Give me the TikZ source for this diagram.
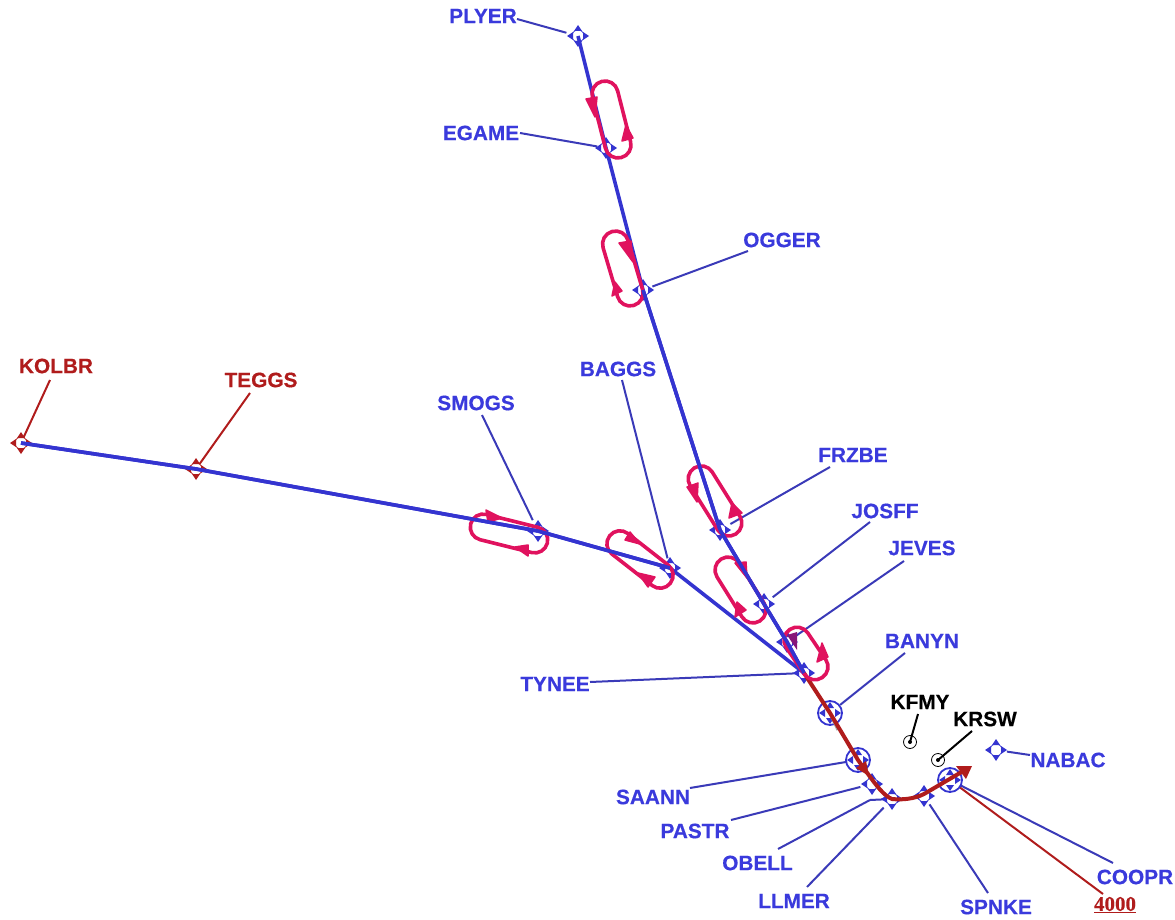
\documentclass[tikz,border=0pt]{standalone}
\usepackage{fontspec}
\setmainfont{Liberation Sans}[BoldFeatures={FakeBold=0.4}]
\newfontfamily\altfont{Liberation Serif}[BoldFeatures={FakeBold=0.3}]
\definecolor{trackblue}{HTML}{3434D0}
\definecolor{labelblue}{HTML}{3A3ADC}
\definecolor{leadblue}{HTML}{3A3AB8}
\definecolor{routered}{HTML}{B01C1C}
\definecolor{holdpink}{HTML}{E0125E}
\tikzset{
  lab/.style={font=\fontsize{20.8}{21}\selectfont\bfseries,inner sep=0pt,text=#1},
  lab/.default=labelblue,
  lead/.style={draw=#1,line width=2pt},
  lead/.default=leadblue,
  track/.style={draw=trackblue,line width=3.6pt,line join=round},
  route/.style={draw=routered,line width=4pt,line join=round},
  holdbox/.style={draw=holdpink,line width=3.6pt,rounded corners=12.9pt,inner sep=0pt,minimum height=26pt},
  tri/.style={fill=holdpink,draw=holdpink,line width=1.5pt,line join=round},
  pics/fix/.style={code={
    \draw[#1,line width=.6pt,fill=white] (0,0) circle (6);
    \fill[#1] (0,-11)--(4,-5)--(-4,-5)--cycle;
    \fill[#1] (0,11)--(4,5)--(-4,5)--cycle;
    \fill[#1] (-11,0)--(-5,4)--(-5,-4)--cycle;
    \fill[#1] (11,0)--(5,4)--(5,-4)--cycle;
  }},
  pics/bigfix/.style={code={
    \draw[#1,line width=1.8pt,fill=white] (0,0) circle (12);
    \fill[#1] (0,-11)--(4,-5)--(-4,-5)--cycle;
    \fill[#1] (0,11)--(4,5)--(-4,5)--cycle;
    \fill[#1] (-11,0)--(-5,4)--(-5,-4)--cycle;
    \fill[#1] (11,0)--(5,4)--(5,-4)--cycle;
  }},
}
\begin{document}
\begin{tikzpicture}[x=1pt,y=-1pt]
\useasboundingbox (0,0) rectangle (1175,920);
% waypoints
\coordinate (PLYER) at (578,36);
\coordinate (EGAME) at (606,148);
\coordinate (OGGER) at (643,290);
\coordinate (KOLBR) at (21,443);
\coordinate (TEGGS) at (196,469);
\coordinate (SMOGS) at (538,531);
\coordinate (BAGGS) at (670,568);
\coordinate (FRZBE) at (720,530);
\coordinate (JOSFF) at (764,604);
\coordinate (JEVES) at (787,642);
\coordinate (TYNEE) at (804,673);
\coordinate (BANYN) at (830,713);
\coordinate (SAANN) at (858,760);
\coordinate (PASTR) at (872,784);
\coordinate (LLMER) at (892,799);
\coordinate (OBELL) at (870,800);
\coordinate (SPNKE) at (924,796);
\coordinate (COOPR) at (950,780);
\coordinate (NABAC) at (996,750);
\coordinate (ROUTEEND) at (965,770);
\coordinate (SHADOW) at (838,730);
% labels
\node[lab] (lPLYER) at (483,16) {PLYER};
\node[lab] (lEGAME) at (481,133) {EGAME};
\node[lab] (lOGGER) at (782,240) {OGGER};
\node[lab=routered] (lKOLBR) at (56,366) {KOLBR};
\node[lab=routered] (lTEGGS) at (261,380) {TEGGS};
\node[lab] (lSMOGS) at (476,403) {SMOGS};
\node[lab] (lBAGGS) at (618,369) {BAGGS};
\node[lab] (lFRZBE) at (853,455) {FRZBE};
\node[lab] (lJOSFF) at (885,511) {JOSFF};
\node[lab] (lJEVES) at (922,548) {JEVES};
\node[lab] (lTYNEE) at (555,684) {TYNEE};
\node[lab] (lBANYN) at (922,641) {BANYN};
\node[lab=black] (lKFMY) at (920,702) {KFMY};
\node[lab=black] (lKRSW) at (985,719) {KRSW};
\node[lab] (lNABAC) at (1068,760) {NABAC};
\node[lab] (lSAANN) at (653,797) {SAANN};
\node[lab] (lPASTR) at (695,831) {PASTR};
\node[lab] (lOBELL) at (757.5,863) {OBELL};
\node[lab] (lLLMER) at (794,901) {LLMER};
\node[lab] (lSPNKE) at (996,907) {SPNKE};
\node[lab] (lCOOPR) at (1135,877) {COOPR};
\node[font=\altfont\fontsize{21}{21}\selectfont\bfseries,inner sep=0pt,text=routered] (lALT) at (1115,905) {\underline{4000}};
% airports
\node[circle,draw=black,line width=.8pt,minimum size=13pt,inner sep=0pt] (KFMY) at (910,742) {};
\node[circle,draw=black,line width=.8pt,minimum size=13pt,inner sep=0pt] (KRSW) at (938,760) {};
\fill (KFMY) circle (2);
\fill (KRSW) circle (2);
% free leader ends
\coordinate (sPLYER) at (517,19);
\coordinate (sEGAME) at (520,133);
\coordinate (sOGGER) at (748,251);
\coordinate (sKOLBR) at (50,380);
\coordinate (sTEGGS) at (250,393);
\coordinate (sSMOGS) at (482,415);
\coordinate (sBAGGS) at (622,380);
\coordinate (sFRZBE) at (830,467);
\coordinate (sJOSFF) at (870,522);
\coordinate (sJEVES) at (904,561);
\coordinate (sTYNEE) at (590,682);
\coordinate (sBANYN) at (905,653);
\coordinate (sKFMY) at (918,714);
\coordinate (sKRSW) at (972,731);
\coordinate (sNABAC) at (1030,755);
\coordinate (sSAANN) at (690,788);
\coordinate (sPASTR) at (731,820);
\coordinate (sOBELL) at (778,849);
\coordinate (sLLMER) at (807,887);
\coordinate (sSPNKE) at (988,893);
\coordinate (sCOOPR) at (1113,863);
\coordinate (sALT) at (1103,894);
% leaders
\draw[lead,shorten >=12pt] (sPLYER) -- (PLYER);
\draw[lead,shorten >=9pt] (sEGAME) -- (EGAME);
\draw[lead,shorten >=10pt] (sOGGER) -- (OGGER);
\draw[lead=routered,shorten >=6pt] (sKOLBR) -- (KOLBR);
\draw[lead=routered,shorten >=6pt] (sTEGGS) -- (TEGGS);
\draw[lead,shorten >=12pt] (sSMOGS) -- (SMOGS);
\draw[lead,shorten >=10pt] (sBAGGS) -- (BAGGS);
\draw[lead,shorten >=12pt] (sFRZBE) -- (FRZBE);
\draw[lead,shorten >=11pt] (sJOSFF) -- (JOSFF);
\draw[lead,shorten >=11pt] (sJEVES) -- (JEVES);
\draw[lead,shorten >=8pt] (sTYNEE) -- (TYNEE);
\draw[lead,shorten >=13pt] (sBANYN) -- (BANYN);
\draw[lead=black,shorten >=1pt] (sKFMY) -- (KFMY.center);
\draw[lead=black,shorten >=1pt] (sKRSW) -- (KRSW.center);
\draw[lead,shorten >=11pt] (sNABAC) -- (NABAC);
\draw[lead,shorten >=12pt] (sSAANN) -- (SAANN);
\draw[lead,shorten >=12pt] (sPASTR) -- (PASTR);
\draw[lead] (sOBELL) -- (OBELL);
\draw[lead,shorten >=12pt] (sLLMER) -- (LLMER);
\draw[lead,shorten >=10pt] (sSPNKE) -- (SPNKE);
\draw[lead,shorten >=3pt] (sCOOPR) -- (COOPR);
\draw[lead=routered,shorten >=1pt] (sALT) -- (COOPR);
\draw[lead] (OBELL) -- (LLMER);
% fix symbols
\foreach \n in {PLYER,EGAME,OGGER,SMOGS,BAGGS,FRZBE,JOSFF,JEVES,TYNEE,PASTR,LLMER,SPNKE,NABAC}
  \pic at (\n) {fix=trackblue};
\foreach \n in {KOLBR,TEGGS}
  \pic at (\n) {fix=routered};
\foreach \n in {BANYN,SAANN,COOPR}
  \pic at (\n) {bigfix=trackblue};
% tracks
\draw[track] (KOLBR) -- (TEGGS) -- (SMOGS) -- (BAGGS) -- (TYNEE);
\draw[track] (PLYER) -- (EGAME) -- (OGGER) -- (FRZBE) -- (JOSFF) -- (JEVES) -- (TYNEE);
\draw[draw=gray!70,line width=3pt] (BANYN) -- (SHADOW);
\draw[route] (TYNEE) -- (BANYN) -- (SAANN) -- (868,774) .. controls (876,785) and (884,796) .. (892,799) .. controls (902,800) and (914,799) .. (924,794) -- (ROUTEEND);
\fill[routered] (972,766) -- (956,766) -- (966,779) -- cycle;
\fill[routered] (869,776) -- (856,768) -- (866,761) -- cycle;
% holds
\node[holdbox,minimum width=78.6pt,rotate=-75.7] (h1) at (611.5,119.5) {};
\node[holdbox,minimum width=77pt,rotate=-73.5] (h2) at (622.8,268.5) {};
\node[holdbox,minimum width=79pt,rotate=-14] (h3) at (509,533.5) {};
\node[holdbox,minimum width=77pt,rotate=-38] (h4) at (640,559.5) {};
\node[holdbox,minimum width=78pt,rotate=-58] (h5) at (715,501) {};
\node[holdbox,minimum width=73pt,rotate=-58] (h6) at (740.5,590) {};
\node[holdbox,minimum width=58pt,rotate=-56] (h7) at (806,653.5) {};
% hold arrowheads
\filldraw[tri] (586,99)--(597,97)--(595,117)--cycle;
\filldraw[tri] (622,141)--(633,138)--(626,125)--cycle;
\filldraw[tri] (619,243)--(631,241)--(633,262)--cycle;
\filldraw[tri] (612,296)--(622,291)--(615,282)--cycle;
\filldraw[tri] (486,510)--(488,522)--(502,518)--cycle;
\filldraw[tri] (528,545)--(528,556)--(515,547)--cycle;
\filldraw[tri] (625,540)--(630,532)--(640,544)--cycle;
\filldraw[tri] (655,577)--(648,587)--(638,573)--cycle;
\filldraw[tri] (687,487)--(698,483)--(697,502)--cycle;
\filldraw[tri] (729,518)--(742,513)--(732,503)--cycle;
\filldraw[tri] (735,563)--(746,562)--(747,578)--cycle;
\filldraw[tri] (735,617)--(746,610)--(737,602)--cycle;
\filldraw[tri] (817,662)--(828,657)--(822,643)--cycle;
\fill[fill=purple!60!trackblue] (787,635)--(797,632)--(797,650)--cycle;
% blue tracks cross holds on top at a few places
\draw[track] (FRZBE) -- (JOSFF) -- (JEVES) -- (TYNEE);
\draw[track] (SMOGS) -- (BAGGS);
\draw[track] (KOLBR) -- (TEGGS) -- (SMOGS);
\draw[track] (OGGER) -- (FRZBE);
\end{tikzpicture}
\end{document}
